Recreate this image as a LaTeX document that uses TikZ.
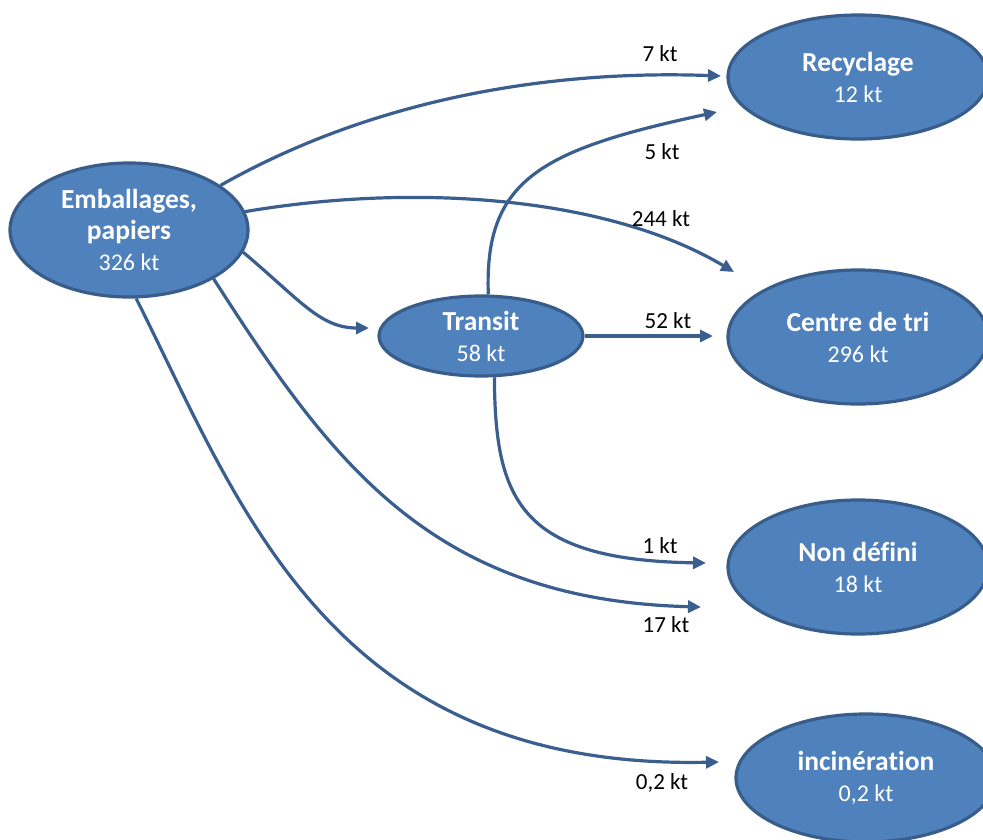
\documentclass[tikz,border=0pt]{standalone}
\usepackage{fontspec}
\setmainfont{Carlito}[Ligatures=NoCommon]
\usetikzlibrary{shapes.geometric,arrows.meta}
\definecolor{blobfill}{HTML}{4F81BD}
\definecolor{blobedge}{HTML}{385D8A}
\definecolor{flow}{HTML}{3A5F8E}
\tikzset{
  blob/.style={ellipse, draw=blobedge, fill=blobfill, line width=3.2pt,
    inner sep=0pt, text=white, align=center, font=\fontsize{24}{31}\selectfont},
  flowline/.style={draw=flow, line width=3.2pt,
    -{Triangle[length=13pt,width=12pt]}},
  qty/.style={text=black, font=\fontsize{23}{28}\selectfont, inner sep=0pt},
}
\newcommand{\ttl}[1]{{\bfseries\fontsize{27.5}{33}\selectfont #1}}
\begin{document}
\begin{tikzpicture}[x=1pt,y=-1pt]
\clip (0,0) rectangle (983,839);
\fill[white] (0,0) rectangle (983,839);

% source and intermediate nodes
\node[blob, minimum width=238pt, minimum height=134pt] (emb) at (129,230)
  {\ttl{Emballages,}\\\ttl{papiers}\\326 kt};
\node[blob, minimum width=204pt, minimum height=80pt] (tr) at (481,336)
  {\ttl{Transit}\\58 kt};

% destinations
\node[blob, minimum width=260pt, minimum height=124pt] (rec) at (858,77)
  {\ttl{Recyclage}\\12 kt};
\node[blob, minimum width=260pt, minimum height=134pt] (tri) at (858,337)
  {\ttl{Centre de tri}\\296 kt};
\node[blob, minimum width=260pt, minimum height=134pt] (nd) at (858,567)
  {\ttl{Non défini}\\18 kt};
\node[blob, minimum width=260pt, minimum height=128pt] (inc) at (866,778)
  {\ttl{incinération}\\0,2 kt};

% arrow tips (they stop short of the ellipses)
\coordinate (recA) at (721,76);
\coordinate (recB) at (717,112);
\coordinate (triA) at (734,272);
\coordinate (triB) at (713,336);
\coordinate (trA)  at (369,328);
\coordinate (ndA)  at (706,563);
\coordinate (ndB)  at (701,607);
\coordinate (incA) at (719,762);

% flows
\draw[flowline] (emb.26) .. controls (380,95) and (560,70) .. (recA);
\draw[flowline] (tr.80) .. controls (484,180) and (540,150) .. (recB);
\draw[flowline] (emb.9) .. controls (420,182) and (610,198) .. (triA);
\draw[flowline] (emb.-11) .. controls (300,300) and (320,328) .. (trA);
\draw[flowline] (tr.0) -- (triB);
\draw[flowline] (tr.-72) .. controls (495,500) and (520,560) .. (ndA);
\draw[flowline] (emb.-30) .. controls (330,460) and (430,600) .. (ndB);
\draw[flowline] (emb.-84) .. controls (240,505) and (330,770) .. (incA);

% quantities
\node[qty] (q1) at (660,54)  {7 kt};
\node[qty] (q2) at (662,152) {5 kt};
\node[qty] (q3) at (661,219) {244 kt};
\node[qty] (q4) at (668,321) {52 kt};
\node[qty] (q5) at (660,546) {1 kt};
\node[qty] (q6) at (666,625) {17 kt};
\node[qty] (q7) at (662,783) {0,2 kt};
\end{tikzpicture}
\end{document}
